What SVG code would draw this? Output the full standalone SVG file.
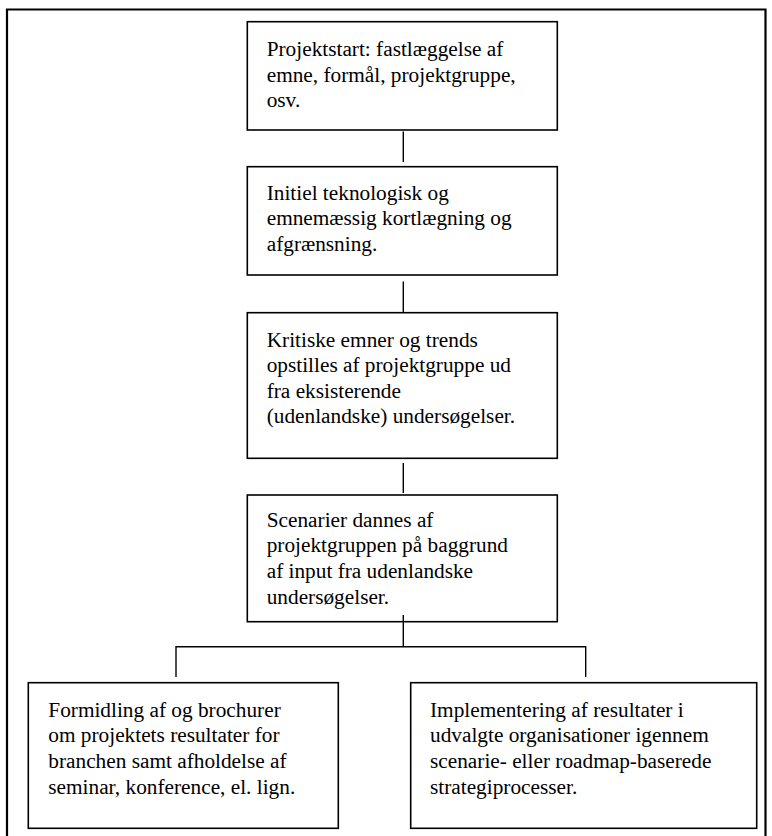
<svg xmlns="http://www.w3.org/2000/svg" width="772" height="836" viewBox="0 0 772 836">
<style>
.box{fill:#fff;stroke:#000;stroke-width:1.6}
.t{font-family:"Liberation Serif","Times New Roman",serif;font-size:21.3px;fill:#000}
.c{stroke:#000;stroke-width:1.4;fill:none}
</style>
<rect width="772" height="836" fill="#fff"/>
<path d="M7,845 V9.5 H765.5 V845" fill="none" stroke="#000" stroke-width="2.2"/>
<g id="connectors">
<line class="c" x1="403.3" y1="131.5" x2="403.3" y2="162"/>
<line class="c" x1="403.3" y1="281.5" x2="403.3" y2="312.5"/>
<line class="c" x1="403.3" y1="463" x2="403.3" y2="493"/>
<line class="c" x1="403.3" y1="615" x2="403.3" y2="646.7"/>
<path class="c" d="M176,677 V646.7 H585.7 V677"/>
</g>
<g id="n1">
<rect class="box" x="247.3" y="21.7" width="310" height="108.3"/>
<text class="t" x="266.7" y="56">Projektstart: fastlæggelse af</text>
<text class="t" x="266.7" y="81.6">emne, formål, projektgruppe,</text>
<text class="t" x="266.7" y="107.2">osv.</text>
</g>
<g id="n2">
<rect class="box" x="247.3" y="166.7" width="310" height="108.3"/>
<text class="t" x="266.7" y="199.5">Initiel teknologisk og</text>
<text class="t" x="266.7" y="225.1">emnemæssig kortlægning og</text>
<text class="t" x="266.7" y="250.7">afgrænsning.</text>
</g>
<g id="n3">
<rect class="box" x="247.3" y="312.7" width="310" height="145.6"/>
<text class="t" x="266.7" y="346.5">Kritiske emner og trends</text>
<text class="t" x="266.7" y="372.1">opstilles af projektgruppe ud</text>
<text class="t" x="266.7" y="397.7">fra eksisterende</text>
<text class="t" x="266.7" y="423.3">(udenlandske) undersøgelser.</text>
</g>
<g id="n4">
<rect class="box" x="247.3" y="495" width="310" height="126.7"/>
<text class="t" x="266.7" y="526.7">Scenarier dannes af</text>
<text class="t" x="266.7" y="552.3">projektgruppen på baggrund</text>
<text class="t" x="266.7" y="577.9">af input fra udenlandske</text>
<text class="t" x="266.7" y="603.5">undersøgelser.</text>
</g>
<line class="c" x1="403.3" y1="615" x2="403.3" y2="622"/>
<g id="n5">
<rect class="box" x="28.3" y="682.7" width="310" height="145.6"/>
<text class="t" x="48.3" y="716.7">Formidling af og brochurer</text>
<text class="t" x="48.3" y="742.3">om projektets resultater for</text>
<text class="t" x="48.3" y="767.9">branchen samt afholdelse af</text>
<text class="t" x="48.3" y="793.5">seminar, konference, el. lign.</text>
</g>
<g id="n6">
<rect class="box" x="410.7" y="682.7" width="346" height="145.6"/>
<text class="t" x="430" y="716.7">Implementering af resultater i</text>
<text class="t" x="430" y="742.3">udvalgte organisationer igennem</text>
<text class="t" x="430" y="767.9">scenarie- eller roadmap-baserede</text>
<text class="t" x="430" y="793.5">strategiprocesser.</text>
</g>
</svg>
